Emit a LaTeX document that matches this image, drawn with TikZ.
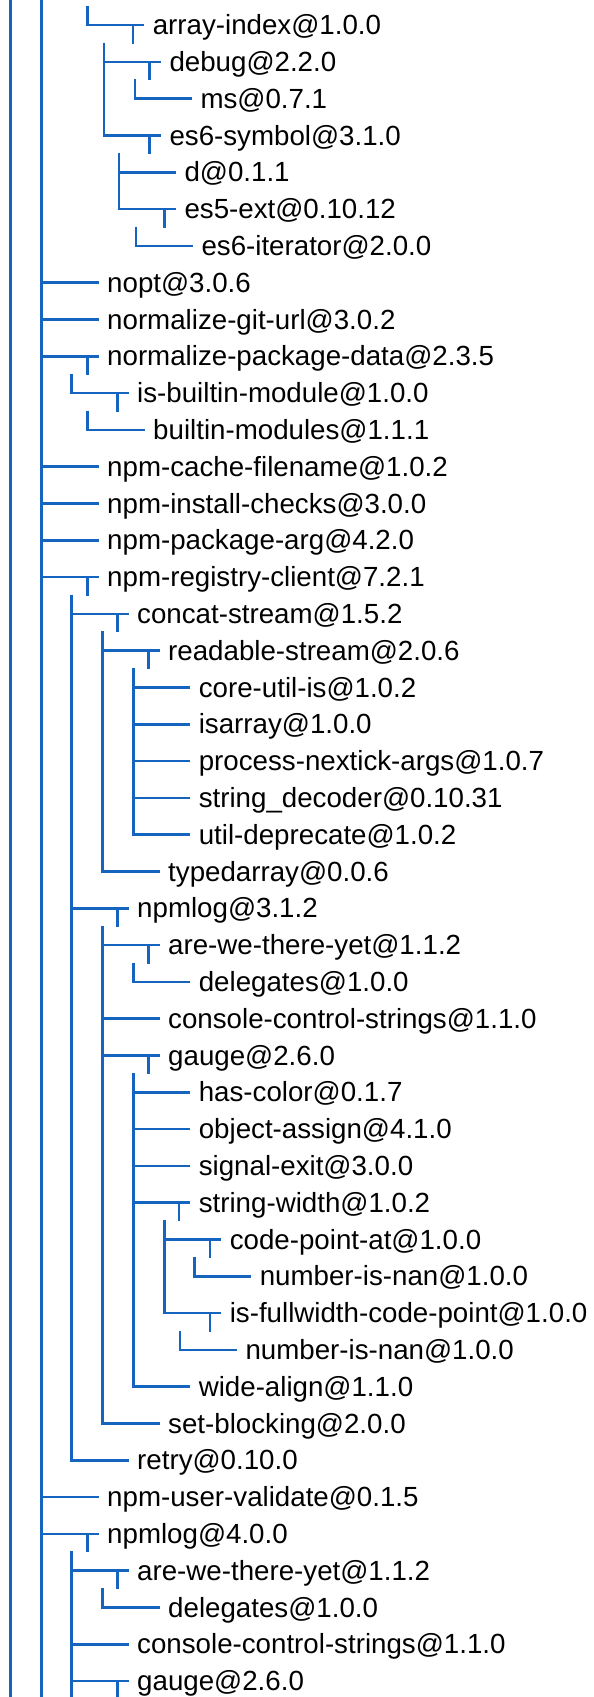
\documentclass[tikz,border=0pt]{standalone}
\usepackage{fontspec}
\setmainfont{Liberation Sans}
\usetikzlibrary{calc}
\definecolor{treeblue}{RGB}{21,101,192}
\tikzset{
  tree/.style={draw=treeblue, line width=2.6pt},
  pkgname/.style={anchor=base west, inner xsep=8.7pt, inner ysep=0pt, outer sep=0pt,
    font=\fontsize{27.7}{32}\selectfont, text=black}
}
\begin{document}
\begin{tikzpicture}[x=1pt, y=-1pt]
\useasboundingbox (0,0) rectangle (594,1697);
\clip (0,0) rectangle (594,1697);

% package rows: index / x of the branch it hangs from / name
\foreach \i/\x/\t in {
  0/87.3/array-index@1.0.0,
  1/104/debug@2.2.0,
  2/135/ms@0.7.1,
  3/104/es6-symbol@3.1.0,
  4/119/d@0.1.1,
  5/119/es5-ext@0.10.12,
  6/136/es6-iterator@2.0.0,
  7/41.7/nopt@3.0.6,
  8/41.7/normalize-git-url@3.0.2,
  9/41.7/normalize-package-data@2.3.5,
  10/71.7/is-builtin-module@1.0.0,
  11/87.7/builtin-modules@1.1.1,
  12/41.7/npm-cache-filename@1.0.2,
  13/41.7/npm-install-checks@3.0.0,
  14/41.7/npm-package-arg@4.2.0,
  15/41.7/npm-registry-client@7.2.1,
  16/71.7/concat-stream@1.5.2,
  17/102.7/readable-stream@2.0.6,
  18/133.3/core-util-is@1.0.2,
  19/133.3/isarray@1.0.0,
  20/133.3/process-nextick-args@1.0.7,
  21/133.3/string\_decoder@0.10.31,
  22/133.3/util-deprecate@1.0.2,
  23/102.7/typedarray@0.0.6,
  24/71.7/npmlog@3.1.2,
  25/102.7/are-we-there-yet@1.1.2,
  26/133.3/delegates@1.0.0,
  27/102.7/console-control-strings@1.1.0,
  28/102.7/gauge@2.6.0,
  29/133.3/has-color@0.1.7,
  30/133.3/object-assign@4.1.0,
  31/133.3/signal-exit@3.0.0,
  32/133.3/string-width@1.0.2,
  33/164.3/code-point-at@1.0.0,
  34/194.3/number-is-nan@1.0.0,
  35/164.3/is-fullwidth-code-point@1.0.0,
  36/180/number-is-nan@1.0.0,
  37/133.3/wide-align@1.1.0,
  38/102.7/set-blocking@2.0.0,
  39/71.7/retry@0.10.0,
  40/41.7/npm-user-validate@0.1.5,
  41/41.7/npmlog@4.0.0,
  42/71.7/are-we-there-yet@1.1.2,
  43/102.7/delegates@1.0.0,
  44/71.7/console-control-strings@1.1.0,
  45/71.7/gauge@2.6.0} {
  \coordinate (a\i) at (\x, {25+36.8*\i});
  \node[pkgname] (r\i) at ({\x+56.8}, {25+36.8*\i+9.7}) {\t};
}

% branch ends running past the top and bottom edges
\coordinate (top0) at (10.7,-5);
\coordinate (bot0) at (10.7,1705);
\coordinate (top1) at (41.7,-5);
\coordinate (bot1) at (41.7,1705);
\coordinate (up0) at (87.3,5.7);

\draw[tree] (top0) -- (bot0);
\draw[tree] (top1) -- (bot1);
\draw[tree] (up0) -- (a0) -- (a0 -| r0.west);
\draw[tree] ($(a42 |- a41)+(0,17.5)$) -- (a42 |- bot0);

% horizontal stubs into every package name
\foreach \i in {0,...,45}
  \draw[tree] (a\i) -- (a\i -| r\i.west);

% child branches: parent / last child
\foreach \p/\l in {0/3, 1/2, 3/5, 5/6, 9/10, 10/11, 15/39, 16/23, 17/22,
                   24/38, 25/26, 28/37, 32/35, 33/34, 35/36, 42/43}
  \draw[tree] ($(a\l |- a\p)+(0,17.5)$) -- (a\l) -- (a\l -| r\l.west);

% ticks under packages that have dependencies
\foreach \p in {0,1,3,5,9,10,15,16,17,24,25,28,32,33,35,41,42,45}
  \draw[tree] ($(a\p)+(45.5,0)$) -- ++(0,18.5);
\end{tikzpicture}
\end{document}
